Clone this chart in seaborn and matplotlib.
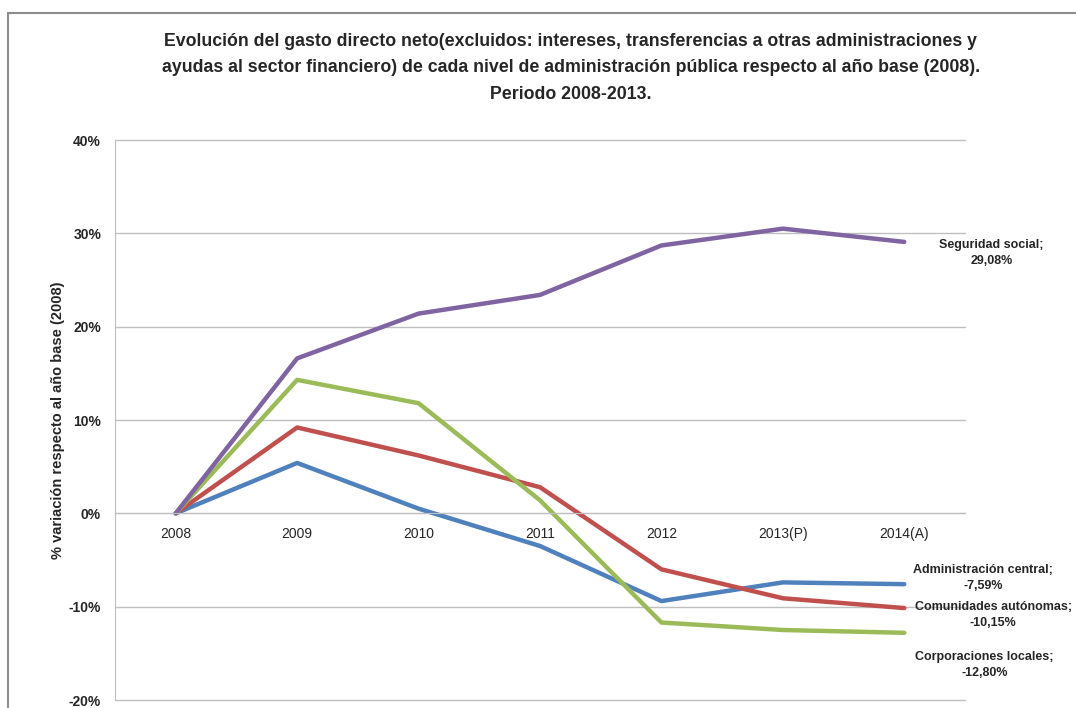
import matplotlib
matplotlib.use("Agg")
import matplotlib.pyplot as plt
import seaborn as sns
import pandas as pd
from matplotlib.patches import Rectangle
from matplotlib.ticker import FixedLocator

years = ["2008", "2009", "2010", "2011", "2012", "2013(P)", "2014(A)"]
series_names = ["Administración central", "Comunidades autónomas",
                "Corporaciones locales", "Seguridad social"]
admin_central = [0.0, 5.4, 0.5, -3.5, -9.4, -7.4, -7.59]
comunidades = [0.0, 9.2, 6.2, 2.8, -6.0, -9.1, -10.15]
corporaciones = [0.0, 14.3, 11.8, 1.4, -11.7, -12.5, -12.80]
seguridad = [0.0, 16.6, 21.4, 23.4, 28.7, 30.5, 29.08]
colors = ["#4F81BD", "#C0504D", "#9BBB59", "#8064A2"]
yticks = [-20, -10, 0, 10, 20, 30, 40]

title = ("Evolución del gasto directo neto(excluidos: intereses, transferencias a otras administraciones y\n"
         "ayudas al sector financiero) de cada nivel de administración pública respecto al año base (2008).\n"
         "Periodo 2008-2013.")
ylabel = "% variación respecto al año base (2008)"

sns.set_style("white")
FONT = ["Liberation Sans", "DejaVu Sans"]
plt.rcParams["font.family"] = FONT

values = [admin_central, comunidades, corporaciones, seguridad]
rows = []
for name, vals in zip(series_names, values):
    for i, v in enumerate(vals):
        rows.append({"idx": i, "year": years[i], "serie": name, "valor": v})
df = pd.DataFrame(rows)

fig = plt.figure(figsize=(10.76, 7.08), dpi=100)
ax = fig.add_axes([115 / 1076, 1 - 700 / 708, 850 / 1076, 560 / 708])

sns.lineplot(data=df, x="idx", y="valor", hue="serie", hue_order=series_names,
             palette=colors, linewidth=3.2, sort=False, legend=False, ax=ax,
             solid_capstyle="round")

ax.set_xlim(-0.5, len(years) - 0.5)
ax.set_ylim(-20, 40)
ax.yaxis.set_major_locator(FixedLocator(yticks))
ax.set_yticklabels([f"{t}%" for t in yticks], fontweight="bold", fontsize=10)
ax.set_xticks(range(len(years)))
ax.set_xticklabels(years, fontsize=9.5)
ax.tick_params(axis="both", length=0)
ax.tick_params(axis="x", pad=10)
ax.tick_params(axis="y", pad=10)
ax.grid(axis="y", color="#BFBFBF", linewidth=1, clip_on=False)
ax.set_axisbelow(True)
for s in ["top", "right"]:
    ax.spines[s].set_visible(False)
ax.spines["left"].set_color("#BFBFBF")
ax.spines["bottom"].set_position(("data", 0))
ax.spines["bottom"].set_color("#BFBFBF")
ax.set_xlabel("")
ax.set_ylabel(ylabel, fontweight="bold", fontsize=10.5, labelpad=3)

# label offsets (pixels, y up) relative to the last point of each series
offsets = [(79, 6), (89, -7), (80, -32), (87, -11)]
for name, vals, off in zip(series_names, values, offsets):
    lab = f"{name};\n{vals[-1]:.2f}%".replace(".", ",")
    ax.annotate(lab, xy=(len(vals) - 1, vals[-1]), xytext=off,
                textcoords="offset pixels", ha="center", va="center",
                fontsize=9, fontweight="bold", linespacing=1.5,
                annotation_clip=False)

fig.text(571 / 1076, 1 - 68 / 708, title, ha="center", va="center",
         fontsize=12.8, fontweight="bold", linespacing=1.75)

fig.patches.append(Rectangle((8 / 1076, -0.1), 1.2, 1 - 13 / 708 + 0.1,
                             transform=fig.transFigure, fill=False,
                             edgecolor="#8C8C8C", linewidth=1.5))

fig.savefig("out.png", dpi=100)
